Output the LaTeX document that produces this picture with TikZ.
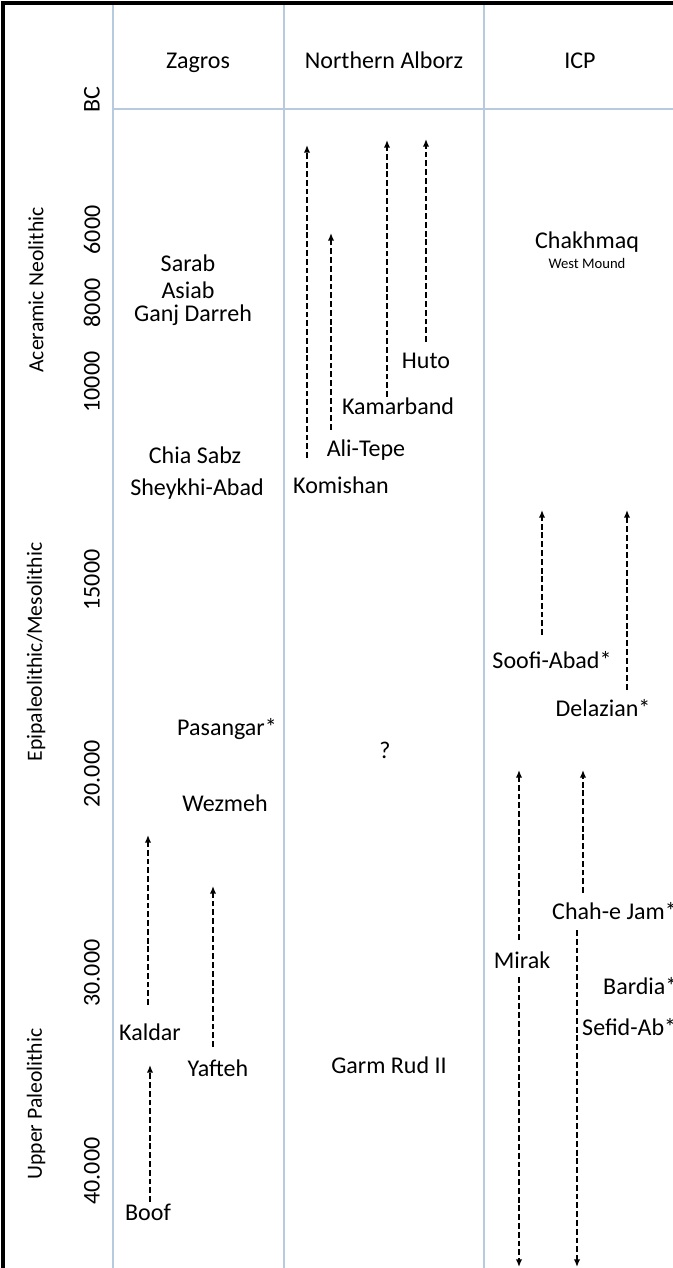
\documentclass[tikz,border=0pt]{standalone}
\usepackage{fontspec}
\setmainfont{Carlito}
\usetikzlibrary{arrows.meta}
\definecolor{tableblue}{RGB}{184,202,222}

\begin{document}
\begin{tikzpicture}[x=0.3mm, y=-0.3mm,
  site/.style={font=\fontsize{20.5}{24}\selectfont, inner sep=0pt, text height=16pt, text depth=2pt},
  period/.style={font=\fontsize{18.5}{22}\selectfont, rotate=90, inner sep=0pt},
  year/.style={font=\fontsize{20.5}{24}\selectfont, rotate=90, inner sep=0pt},
  spanarrow/.style={-{Latex[length=6.5pt,width=5.5pt]}, dash pattern=on 5pt off 2.5pt, line width=2.5pt},
  tableline/.style={tableblue, line width=1pt}]
  \useasboundingbox (0,0) rectangle (673,1268);

  % table
  \draw[tableline] (113,5) -- (113,1268);
  \draw[tableline] (284,5) -- (284,1268);
  \draw[tableline] (484,5) -- (484,1268);
  \draw[tableline] (113,109) -- (673,109);
  \draw[line width=2.6pt] (673,3) -- (3,3) -- (3,1268);

  % headers
  \node[site] (zagros) at (198,60) {Zagros};
  \node[site] (alborz) at (384,60) {Northern Alborz};
  \node[site] (icp) at (580,60) {ICP};
  \node[year] (bc) at (92,100) {BC};

  % periods and years
  \node[period] (aceramic) at (36,290) {Aceramic Neolithic};
  \node[period] (epipal) at (36,652) {Epipaleolithic/Mesolithic};
  \node[period] (upperpal) at (36,1104) {Upper Paleolithic};
  \node[year] (y6) at (92,230) {6000};
  \node[year] (y8) at (92,303) {8000};
  \node[year] (y10) at (92,382) {10000};
  \node[year] (y15) at (92,580) {15000};
  \node[year] (y20) at (92,774) {20.000};
  \node[year] (y30) at (92,973) {30.000};
  \node[year] (y40) at (92,1171) {40.000};

  % Zagros
  \node[site] (sarab) at (188,263) {Sarab};
  \node[site] (asiab) at (188,290) {Asiab};
  \node[site] (ganj) at (193,313) {Ganj Darreh};
  \node[site] (chia) at (195,455) {Chia Sabz};
  \node[site] (sheykhi) at (197,487) {Sheykhi-Abad};
  \node[site] (pasangar) at (227,727) {Pasangar*};
  \node[site] (wezmeh) at (225,803) {Wezmeh};
  \node[site] (kaldar) at (150,1032) {Kaldar};
  \node[site] (yafteh) at (218,1068) {Yafteh};
  \node[site] (boof) at (148,1212) {Boof};
  \coordinate (kaldar-s) at (148,1005);
  \coordinate (kaldar-e) at (148,835);
  \coordinate (yafteh-s) at (213,1047);
  \coordinate (yafteh-e) at (213,886);
  \coordinate (boof-s) at (150,1202);
  \coordinate (boof-e) at (150,1065);
  \draw[spanarrow] (kaldar-s) -- (kaldar-e);
  \draw[spanarrow] (yafteh-s) -- (yafteh-e);
  \draw[spanarrow] (boof-s) -- (boof-e);

  % Northern Alborz
  \node[site] (komishan) at (341,485) {Komishan};
  \node[site] (alitepe) at (366,448) {Ali-Tepe};
  \node[site] (kamarband) at (398,406) {Kamarband};
  \node[site] (huto) at (426,360) {Huto};
  \node[site] (unknown) at (385,750) {?};
  \node[site] (garmrud) at (389,1065) {Garm Rud II};
  \coordinate (komishan-s) at (307,458);
  \coordinate (komishan-e) at (307,145);
  \coordinate (alitepe-s) at (331,430);
  \coordinate (alitepe-e) at (331,233);
  \coordinate (kamarband-s) at (387,397);
  \coordinate (kamarband-e) at (387,140);
  \coordinate (huto-s) at (426,342);
  \coordinate (huto-e) at (426,139);
  \draw[spanarrow] (komishan-s) -- (komishan-e);
  \draw[spanarrow] (alitepe-s) -- (alitepe-e);
  \draw[spanarrow] (kamarband-s) -- (kamarband-e);
  \draw[spanarrow] (huto-s) -- (huto-e);

  % ICP
  \node[site] (chakhmaq) at (587,240) {Chakhmaq};
  \node[site, font=\fontsize{12.5}{15}\selectfont, text height=10pt, text depth=1pt] (westmound) at (587,263) {West Mound};
  \node[site] (soofi) at (552,660) {Soofi-Abad*};
  \node[site] (delazian) at (603,708) {Delazian*};
  \node[site] (mirak) at (522,960) {Mirak};
  \node[site, anchor=west] (chahejam) at (552,911) {Chah-e Jam*};
  \node[site, anchor=west] (bardia) at (603,986) {Bardia*};
  \node[site, anchor=west] (sefidab) at (582,1027) {Sefid-Ab*};
  \coordinate (soofi-s) at (542,635);
  \coordinate (soofi-e) at (542,510);
  \coordinate (delazian-s) at (627,690);
  \coordinate (delazian-e) at (627,510);
  \coordinate (mirak-up-s) at (519,940);
  \coordinate (mirak-up-e) at (519,770);
  \coordinate (mirak-dn-s) at (519,977);
  \coordinate (mirak-dn-e) at (519,1267);
  \coordinate (chahejam-up-s) at (583,893);
  \coordinate (chahejam-up-e) at (583,770);
  \coordinate (chahejam-dn-s) at (577,930);
  \coordinate (chahejam-dn-e) at (577,1267);
  \draw[spanarrow] (soofi-s) -- (soofi-e);
  \draw[spanarrow] (delazian-s) -- (delazian-e);
  \draw[spanarrow] (mirak-up-s) -- (mirak-up-e);
  \draw[spanarrow] (mirak-dn-s) -- (mirak-dn-e);
  \draw[spanarrow] (chahejam-up-s) -- (chahejam-up-e);
  \draw[spanarrow] (chahejam-dn-s) -- (chahejam-dn-e);
\end{tikzpicture}
\end{document}
